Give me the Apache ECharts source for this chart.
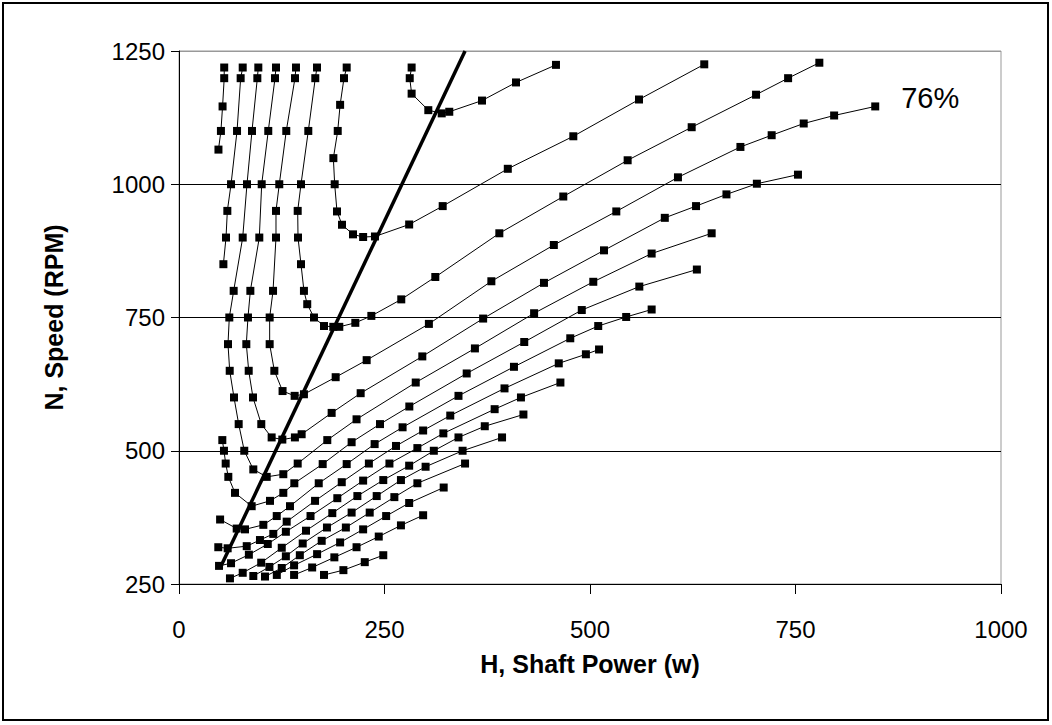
<!DOCTYPE html>
<html>
<head>
<meta charset="utf-8">
<script src="https://cdn.jsdelivr.net/npm/echarts@6/dist/echarts.min.js"></script>
<style>
  html, body { margin: 0; padding: 0; background: #fff; }
  #chart { width: 1052px; height: 725px; }
</style>
</head>
<body>
<div id="chart"></div>
<script>
  // axis ticks
  const xTicks = [0, 250, 500, 750, 1000]
  const yTicks = [250, 500, 750, 1000, 1250]

  // contour curves, [H (w), N (rpm)]
  const c1 = [[55,1219],[55,1199],[53,1146],[51,1100],[48,1065]]
  const c2 = [[77.5,1219],[75,1199],[70.6,1100],[63.3,1000],[58.8,950],[57.2,900],[54,850]]
  const c3 = [[96.5,1219],[95.3,1199],[88.8,1100],[82.7,1000],[77.5,900],[66.5,800],[61.2,750],[59.6,700],[61.7,650],[66.9,600],[72.6,550],[79.4,500],[90.4,465],[106.7,451],[126.9,456],[144.4,476],[180.4,520],[216,559],[288,628],[360,692],[432,758],[504,817],[575,870],[648,908]]
  const c4 = [[118,1219],[116.8,1199],[108.6,1100],[100.6,1000],[97.7,900],[86.8,800],[83.9,750],[81.9,700],[84.8,650],[90,600],[100.1,550],[112.7,525],[125.7,521],[141,525],[149.2,531],[185.7,571],[221,608],[296,677],[370,748],[444,815],[517,876],[591,937],[629,959],[666,981],[703,1001],[753,1018]]
  const c5 = [[142.3,1219],[141.1,1199],[130.5,1100],[122,1000],[118,950],[118,900],[114.4,800],[110.3,750],[110.3,700],[116,650],[126,612],[140.7,603],[152,606],[190.6,638],[228.3,670],[304,738],[380,818],[456,886],[532,949],[607,1013],[683,1070],[721,1092],[760,1114],[797,1129],[847,1146]]
  const c6 = [[167.9,1219],[165.8,1199],[157.3,1100],[148.4,1000],[144.4,950],[144.8,900],[148.4,850],[152,800],[156,775],[164.2,750],[176.4,734],[187.7,732.5],[195,732.5],[214.5,740],[234,753],[270.4,784],[311.8,826],[389.7,908],[467.5,977],[545.8,1045],[623.7,1107],[702,1168],[741,1199],[779,1228]]
  const c7 = [[204,1219],[200.7,1199],[196,1149],[193.1,1100],[187.8,1049],[189.4,1000],[192.2,949],[198.3,924],[211.7,906],[224,901],[238.4,902],[280,924.5],[320.8,959],[400,1029],[479.7,1090],[559.6,1159],[639,1225]]
  const c8 = [[283,1219],[280.7,1199],[283,1170],[303.3,1139],[319.6,1133],[328.8,1136],[368.6,1157],[410,1191],[458.6,1224]]

  const d1 = [[52.7,520],[54.7,500],[56.8,476],[60,451],[68.1,421],[88.4,396],[110.7,406],[126.9,421],[140.3,439],[174.8,475],[210,516],[244.5,550],[280.2,583],[350,645],[420,704],[490,764],[560,808],[630,840]]
  const d2 = [[50,371],[70.2,354],[80.3,352.5],[102.6,361],[118.9,377.5],[135,396],[170,439],[204,475],[238,512.5],[272,544],[340,603],[407.5,657.5],[476,711],[510,734],[544,751],[575,765]]
  const d3 = [[47.8,319],[59.2,317],[82.4,321],[98.5,332.5],[114.7,344],[131,367],[165.5,406],[198,441],[231,476],[264,509],[297,538],[330,566],[396,617],[462,664],[495,681],[511,690]]
  const d4 = [[48.7,284],[63.3,289],[85,305],[108,325],[130,348],[160,377.5],[192.6,411],[224,444],[256,476],[290,505],[321.6,532.6],[384,578],[416,600],[464,628]]
  const d5 = [[62,260.6],[77.5,271],[100,290],[125,318],[154.5,350],[186.5,383],[217,415],[248.5,445],[280,472],[310,500],[340,525],[372,546],[419,568]]
  const d6 = [[90.4,265],[110,282],[130,302],[150.5,326],[180,356],[210,384],[240.5,415],[270,445],[300,470],[345,500],[393,525]]
  const d7 = [[104.6,264],[125,280],[147,304],[173.6,331],[203,356],[232,384],[262,413],[290,439],[348,476]]
  const d8 = [[119,267],[140,285],[168,306],[196,328],[224,352.5],[252,377.5],[280,402],[322,431]]
  const d9 = [[140,267],[162,281],[189,300],[216,319],[243,339],[270,360],[297,379]]
  const d10 = [[176.4,267],[200,276],[226,291],[248.5,304]]

  // heavy straight line through the bottoms of the loops
  const bestLine = [[50,280],[348,1250]]

  const curves = [c1, c2, c3, c4, c5, c6, c7, c8, d1, d2, d3, d4, d5, d6, d7, d8, d9, d10]
  const font = '"Liberation Sans", Arial, sans-serif'

  const chart = echarts.init(document.getElementById('chart'), null, {renderer: 'svg'})

  const series = curves.map((pts, i) => ({
    type: 'line',
    data: pts,
    symbol: 'rect',
    symbolSize: 8,
    showAllSymbol: true,
    itemStyle: {color: '#000'},
    lineStyle: {color: '#000', width: 1},
    silent: true,
    animation: false,
    endLabel: pts === c5 ? {
      show: true,
      formatter: '76%',
      color: '#000',
      fontFamily: font,
      fontSize: 29,
      offset: [18, -8]
    } : undefined
  }))
  series.push({
    type: 'line',
    data: bestLine,
    symbol: 'none',
    lineStyle: {color: '#000', width: 3.5},
    silent: true,
    animation: false
  })

  chart.setOption({
    animation: false,
    backgroundColor: '#fff',
    graphic: [{
      type: 'rect',
      shape: {x: 3, y: 3, width: 1045, height: 717},
      style: {fill: 'none', stroke: '#000', lineWidth: 2},
      z: -1
    }],
    grid: {left: 179, right: 51, top: 51, bottom: 141, show: true, borderColor: '#999', borderWidth: 1},
    xAxis: {
      type: 'value',
      min: 0, max: 1000, interval: 250,
      name: 'H, Shaft Power (w)',
      nameLocation: 'middle',
      nameGap: 67,
      nameTextStyle: {fontFamily: font, fontSize: 25, fontWeight: 'bold', color: '#000'},
      axisLine: {show: true, lineStyle: {color: '#000', width: 1}},
      axisTick: {show: true, inside: false, length: 10, lineStyle: {color: '#000'}},
      axisLabel: {
        margin: 33,
        fontFamily: font, fontSize: 24, color: '#000',
        formatter: v => xTicks.includes(v) ? String(v) : ''
      },
      splitLine: {show: false}
    },
    yAxis: {
      type: 'value',
      min: 250, max: 1250, interval: 250,
      name: 'N, Speed (RPM)',
      nameLocation: 'middle',
      nameGap: 113,
      nameRotate: 90,
      nameTextStyle: {fontFamily: font, fontSize: 25, fontWeight: 'bold', color: '#000'},
      axisLine: {show: true, lineStyle: {color: '#000', width: 1}},
      axisTick: {show: true, inside: false, length: 8, lineStyle: {color: '#000'}},
      axisLabel: {
        margin: 14,
        fontFamily: font, fontSize: 24, color: '#000',
        formatter: v => yTicks.includes(v) ? String(v) : ''
      },
      splitLine: {show: true, lineStyle: {color: ['#000', '#000', '#000', '#000', '#999'], width: 1}}
    },
    series: series
  })
</script>
</body>
</html>
